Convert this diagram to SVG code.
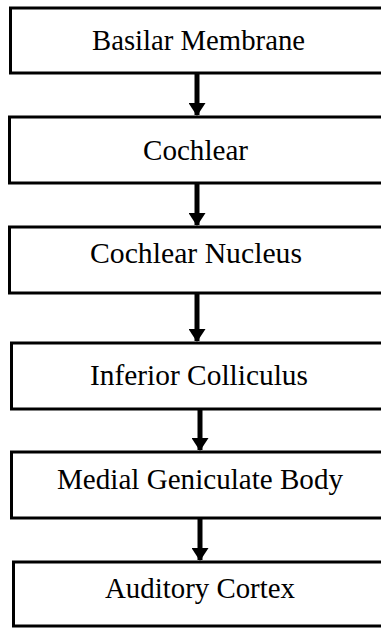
<svg xmlns="http://www.w3.org/2000/svg" width="381" height="629" viewBox="0 0 381 629">
<style>
.box{fill:#fff;stroke:#000;stroke-width:3}
.lbl{font-family:"Liberation Serif","Times New Roman",serif;font-size:29px;fill:#000}
.conn{stroke:#000;stroke-width:5;fill:none}
</style>
<defs>
<marker id="ah" markerUnits="userSpaceOnUse" markerWidth="13" markerHeight="17" refX="12" refY="8.5" orient="auto" viewBox="0 0 13 17">
<path d="M0,0 L13,8.5 L0,17 Z" fill="#000"/>
</marker>
</defs>
<rect width="381" height="629" fill="#fff"/>
<g id="n1"><rect class="box" x="10.5" y="8" width="380" height="65"/><text class="lbl" x="92" y="50" textLength="213" lengthAdjust="spacingAndGlyphs">Basilar Membrane</text></g>
<g id="n2"><rect class="box" x="9.5" y="117" width="380" height="66"/><text class="lbl" x="143" y="160" textLength="105" lengthAdjust="spacingAndGlyphs">Cochlear</text></g>
<g id="n3"><rect class="box" x="9.5" y="227" width="380" height="66"/><text class="lbl" x="90" y="263" textLength="212" lengthAdjust="spacingAndGlyphs">Cochlear Nucleus</text></g>
<g id="n4"><rect class="box" x="11.5" y="343" width="380" height="66"/><text class="lbl" x="90" y="385" textLength="218" lengthAdjust="spacingAndGlyphs">Inferior Colliculus</text></g>
<g id="n5"><rect class="box" x="11.5" y="452" width="380" height="66"/><text class="lbl" x="57" y="489" textLength="286" lengthAdjust="spacingAndGlyphs">Medial Geniculate Body</text></g>
<g id="n6"><rect class="box" x="13.5" y="562" width="380" height="64"/><text class="lbl" x="105" y="598" textLength="190" lengthAdjust="spacingAndGlyphs">Auditory Cortex</text></g>
<g id="connectors">
<line class="conn" x1="197" y1="74" x2="197" y2="115" marker-end="url(#ah)"/>
<line class="conn" x1="197" y1="184" x2="197" y2="225" marker-end="url(#ah)"/>
<line class="conn" x1="197" y1="294" x2="197" y2="341" marker-end="url(#ah)"/>
<line class="conn" x1="200" y1="410" x2="200" y2="450" marker-end="url(#ah)"/>
<line class="conn" x1="200" y1="519" x2="200" y2="560" marker-end="url(#ah)"/>
</g>
</svg>
